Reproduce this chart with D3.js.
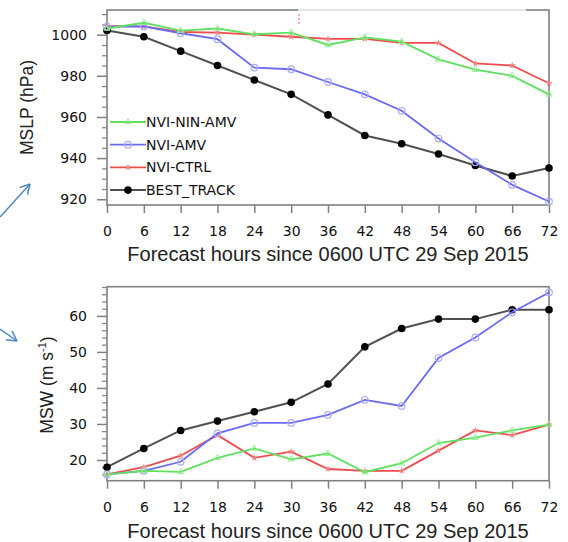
<!DOCTYPE html>
<html><head><meta charset="utf-8">
<script src="https://cdn.jsdelivr.net/npm/d3@7"></script>
<style>body{margin:0;background:#fff;}svg{display:block;}</style>
</head><body>
<svg id="chart" width="568" height="542"></svg>
<script>
const hours = [0,6,12,18,24,30,36,42,48,54,60,66,72];
const seriesNames = ["NVI-NIN-AMV","NVI-AMV","NVI-CTRL","BEST_TRACK"];
const mslpNinAmv = [1003,1005.8,1002,1003,1000.2,1001,995,998.7,996.6,988,983,980,971];
const mslpAmv    = [1003.9,1004,1000.7,997.8,984,983.2,977,971,963,949.5,938,927,918.9];
const mslpCtrl   = [1004.2,1004,1001.3,1001,1000,999,998,998,996,996,986,985,976.4];
const mslpBest   = [1002,999,992,985,978,971,961,951,947,942,936.4,931.3,935.2];
const mswNinAmv  = [16,17,16.7,20.6,23.2,20.2,21.8,16.6,19.1,24.7,26.2,28.2,29.8];
const mswAmv     = [16,17,19.5,27.4,30.3,30.3,32.5,36.7,35,48.3,54,61,66.5];
const mswCtrl    = [16,18,21.2,26.9,20.6,22.3,17.5,17,17,22.6,28.2,26.9,29.8];
const mswBest    = [18,23.2,28.2,30.8,33.4,36,41.1,51.4,56.5,59.1,59.1,61.7,61.7];
const mslpTicks = [920,940,960,980,1000];
const mswTicks = [20,30,40,50,60];
const xTitle = "Forecast hours since 0600 UTC 29 Sep 2015";

const svg = d3.select("#chart");
const colors = {"NVI-NIN-AMV":"#5fe05f","NVI-AMV":"#6a6af2","NVI-CTRL":"#ee4c4c","BEST_TRACK":"#505050"};
const x = d3.scaleLinear().domain([0,72]).range([107,549]);
const tickFont = "'DejaVu Sans', sans-serif";
const frameCol = "#808080";

function drawMarker(g, name, px, py){
  if(name==="BEST_TRACK"){
    g.append("circle").attr("cx",px).attr("cy",py).attr("r",3.8).attr("fill","#000");
  } else if(name==="NVI-AMV"){
    g.append("circle").attr("cx",px).attr("cy",py).attr("r",3.3).attr("fill","none").attr("stroke","#a8acff").attr("stroke-width",1.2);
  } else if(name==="NVI-CTRL"){
    g.append("path").attr("transform",`translate(${px},${py})`).attr("d",d3.symbol(d3.symbolStar,16)()).attr("fill","#f08080");
  } else {
    g.append("path").attr("transform",`translate(${px},${py})`).attr("d",d3.symbol(d3.symbolTriangle,16)()).attr("fill","none").attr("stroke","#90ee90").attr("stroke-width",1);
  }
}

function panel(cfg){
  const y = d3.scaleLinear().domain(cfg.domain).range([cfg.bottom,cfg.top]);
  const g = svg.append("g");
  const minor = g.append("g").attr("transform",`translate(107,0)`)
    .call(d3.axisLeft(y).tickValues(cfg.minor).tickSize(5).tickFormat(""));
  minor.select(".domain").remove();
  minor.selectAll("line").attr("stroke",frameCol).attr("stroke-width",1.2);
  const ya = g.append("g").attr("transform",`translate(107,0)`)
    .call(d3.axisLeft(y).tickValues(cfg.ticks).tickSize(10).tickPadding(10).tickFormat(d3.format("d")));
  ya.select(".domain").remove();
  ya.selectAll("line").attr("stroke",frameCol).attr("stroke-width",1.5);
  ya.selectAll("text").attr("font-family",tickFont).attr("font-size",14).attr("fill","#111");
  const xa = g.append("g").attr("transform",`translate(0,${cfg.bottom})`)
    .call(d3.axisBottom(x).tickValues(hours).tickSize(8).tickPadding(13).tickFormat(d3.format("d")));
  xa.select(".domain").remove();
  xa.selectAll("line").attr("stroke",frameCol).attr("stroke-width",1.5);
  xa.selectAll("text").attr("font-family",tickFont).attr("font-size",14).attr("fill","#111");
  g.append("rect").attr("x",107).attr("y",cfg.top).attr("width",442).attr("height",cfg.bottom-cfg.top)
    .attr("fill","none").attr("stroke",frameCol).attr("stroke-width",1.6);
  const order = ["BEST_TRACK","NVI-CTRL","NVI-AMV","NVI-NIN-AMV"];
  const line = d3.line().x((d,i)=>x(hours[i])).y(d=>y(d));
  order.forEach(name=>{
    const vals = cfg.data[name];
    g.append("path").datum(vals).attr("d",line).attr("fill","none")
      .attr("stroke",colors[name]).attr("stroke-width",name==="BEST_TRACK"?2:1.8);
    vals.forEach((v,i)=>drawMarker(g,name,x(hours[i]),y(v)));
  });
  g.append("text").attr("x",328).attr("y",cfg.titleY).attr("text-anchor","middle")
    .attr("font-family","'Liberation Sans', Arial, sans-serif").attr("font-size",20).attr("fill","#222").text(xTitle);
  return {g,y};
}

const p1 = panel({domain:[917.2,1012], top:10, bottom:205, ticks:mslpTicks, minor:d3.range(920,1011,5).filter(v=>v%20!==0), titleY:261,
  data:{"NVI-NIN-AMV":mslpNinAmv,"NVI-AMV":mslpAmv,"NVI-CTRL":mslpCtrl,"BEST_TRACK":mslpBest}});
const p2 = panel({domain:[14.25,68.1], top:286.7, bottom:480.7, ticks:mswTicks, minor:d3.range(16,69,2).filter(v=>v%10!==0), titleY:538,
  data:{"NVI-NIN-AMV":mswNinAmv,"NVI-AMV":mswAmv,"NVI-CTRL":mswCtrl,"BEST_TRACK":mswBest}});

svg.append("text").attr("transform","translate(33,107.5) rotate(-90)").attr("text-anchor","middle")
  .attr("font-family","'Liberation Sans', Arial, sans-serif").attr("font-size",17.5).attr("fill","#222").text("MSLP (hPa)");
const t2 = svg.append("text").attr("transform","translate(53,385) rotate(-90)").attr("text-anchor","middle")
  .attr("font-family","'Liberation Sans', Arial, sans-serif").attr("font-size",17.5).attr("fill","#222");
t2.append("tspan").text("MSW (m s");
t2.append("tspan").attr("font-size",11).attr("dy",-7).text("-1");
t2.append("tspan").attr("dy",7).text(")");

const leg = svg.append("g");
seriesNames.forEach((name,i)=>{
  const ly = 122 + i*22.7;
  leg.append("line").attr("x1",110).attr("x2",146).attr("y1",ly).attr("y2",ly)
    .attr("stroke",colors[name]).attr("stroke-width",name==="BEST_TRACK"?2:1.8);
  drawMarker(leg,name,128,ly);
  leg.append("text").attr("x",146).attr("y",ly+5).attr("font-family",tickFont).attr("font-size",14).attr("fill","#111").text(name);
});

svg.append("rect").attr("x",298).attr("y",6).attr("width",228).attr("height",7).attr("fill","#fff").attr("opacity",0.75);
svg.append("line").attr("x1",299).attr("x2",299).attr("y1",14).attr("y2",24).attr("stroke","#f07070").attr("stroke-width",1.2).attr("stroke-dasharray","2,2");

const arrowCol = "#4d88c4";
function arrow(x1,y1,x2,y2){
  svg.append("line").attr("x1",x1).attr("y1",y1).attr("x2",x2).attr("y2",y2).attr("stroke",arrowCol).attr("stroke-width",1.5);
  const a = Math.atan2(y2-y1,x2-x1), L=11, s=0.5;
  [a+Math.PI-s, a+Math.PI+s].forEach(b=>{
    svg.append("line").attr("x1",x2).attr("y1",y2).attr("x2",x2+L*Math.cos(b)).attr("y2",y2+L*Math.sin(b))
      .attr("stroke",arrowCol).attr("stroke-width",1.5);
  });
}
arrow(0,217,30,184);
arrow(0,329,17,341);
</script>
</body></html>
